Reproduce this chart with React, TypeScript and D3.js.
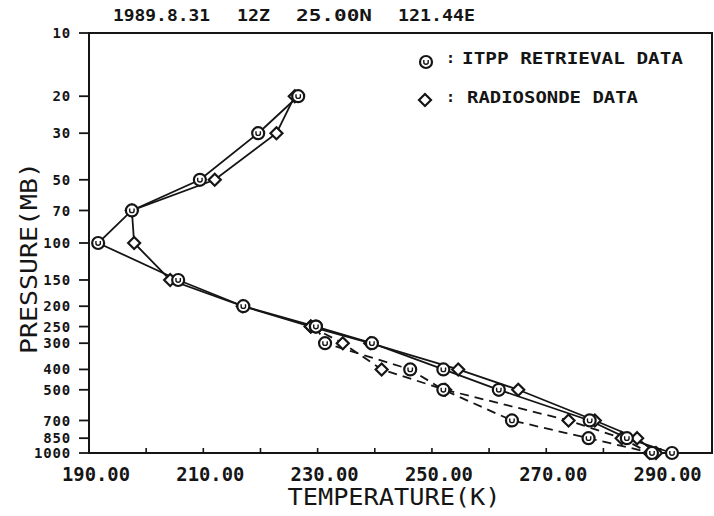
import * as d3 from "d3"

// pressure levels (mb) and temperatures (K)
const levels = [20, 30, 50, 70, 100, 150, 200, 250, 300, 400, 500, 700, 850, 1000]
const itppTemps = [226.6, 219.6, 209.4, 197.5, 191.6, 205.6, 217.0, 229.7, 239.5, 252.0, 261.7, 277.6, 284.1, 292.0]
const raobTemps = [226.0, 222.8, 212.0, 197.5, 197.9, 204.2, 216.9, 228.8, 239.2, 254.6, 265.1, 278.5, 285.9, 289.2]

// second (dashed) pair of profiles, lower troposphere only
const lowLevels = [250, 300, 400, 500, 700, 850, 1000]
const itppLowTemps = [229.7, 231.3, 246.2, 252.0, 264.0, 277.4, 288.5]
const raobLowTemps = [228.8, 234.4, 241.2, 252.3, 273.9, 283.2, 288.1]

const pressureTicks = [10, 20, 30, 50, 70, 100, 150, 200, 250, 300, 400, 500, 700, 850, 1000]
const tempLabels = [190, 210, 230, 250, 270, 290]
const tempTicks = [200, 210, 220, 230, 240, 250, 260, 270, 280, 290]
const titleParts = ["1989.8.31", "12Z", "25.00N", "121.44E"]

const W = 714
const H = 516
const INK = "#151515"
const FONT = "'DejaVu Sans Mono', monospace"

const x = d3.scaleLinear().domain([190, 299]).range([89, 712])
const y = d3.scaleLog().domain([10, 1000]).range([33, 453])

type Pt = { p: number; t: number }

const zipPts = (ps: number[], ts: number[]): Pt[] => ps.map((p, i) => ({ p, t: ts[i] }))

const line = d3
  .line<Pt>()
  .x((d) => x(d.t))
  .y((d) => y(d.p))

function CircleMark({ cx, cy }: { cx: number; cy: number }) {
  return (
    <g>
      <circle cx={cx} cy={cy} r={6} fill="#fff" stroke={INK} strokeWidth={2.2} />
      <path
        d={`M${cx - 2.2},${cy - 2} v2.2 q0,2 2.2,2 q2.2,0 2.2,-2 v-2.2`}
        fill="none"
        stroke={INK}
        strokeWidth={1.4}
      />
    </g>
  )
}

function DiamondMark({ cx, cy }: { cx: number; cy: number }) {
  return (
    <path
      d={`M${cx},${cy - 6} L${cx + 6},${cy} L${cx},${cy + 6} L${cx - 6},${cy} Z`}
      fill="#fff"
      stroke={INK}
      strokeWidth={2.2}
    />
  )
}

export default function App() {
  const itpp = zipPts(levels, itppTemps)
  const raob = zipPts(levels, raobTemps)
  const itppLow = zipPts(lowLevels, itppLowTemps)
  const raobLow = zipPts(lowLevels, raobLowTemps)

  const [x0, x1] = x.range()
  const [y0, y1] = y.range()

  const titleX = [113, 237, 296, 398]
  const titleW = [97, 33, 76, 77]

  return (
    <div style={{ position: "fixed", left: 0, top: 0, width: W, height: H, background: "#fff" }}>
      <svg width={W} height={H} viewBox={`0 0 ${W} ${H}`}>
        <rect width={W} height={H} fill="#fff" />

        {/* title */}
        {titleParts.map((s, i) => (
          <text
            key={s}
            x={titleX[i]}
            y={21}
            fontFamily={FONT}
            fontWeight="bold"
            fontSize={15}
            fill={INK}
            textLength={titleW[i]}
            lengthAdjust="spacingAndGlyphs"
          >
            {s}
          </text>
        ))}

        {/* frame */}
        <rect x={x0} y={y0} width={x1 - x0} height={y1 - y0} fill="none" stroke={INK} strokeWidth={2} />

        {/* y axis ticks + labels */}
        {pressureTicks.map((p) => (
          <g key={p}>
            <line x1={x0 - 10} x2={x0} y1={y(p)} y2={y(p)} stroke={INK} strokeWidth={1.8} />
            <text
              x={71}
              y={y(p)}
              dy="0.36em"
              textAnchor="end"
              fontFamily={FONT}
              fontWeight="bold"
              fontSize={14}
              fill={INK}
              letterSpacing={0.8}
            >
              {p}
            </text>
          </g>
        ))}

        {/* x axis ticks + labels */}
        {tempTicks.map((t) => (
          <line key={t} x1={x(t)} x2={x(t)} y1={y1} y2={y1 - 5} stroke={INK} strokeWidth={1.6} />
        ))}
        {tempLabels.map((t) => (
          <text
            key={t}
            x={x(t) + 7}
            y={481}
            textAnchor="middle"
            fontFamily={FONT}
            fontWeight="bold"
            fontSize={19}
            fill={INK}
            textLength={68}
            lengthAdjust="spacingAndGlyphs"
          >
            {t.toFixed(2)}
          </text>
        ))}

        {/* axis titles */}
        <text
          x={394}
          y={505}
          textAnchor="middle"
          fontFamily={FONT}
          fontSize={23}
          fill={INK}
          textLength={213}
          lengthAdjust="spacingAndGlyphs"
        >
          TEMPERATURE(K)
        </text>
        <text
          transform="translate(37,258) rotate(-90)"
          textAnchor="middle"
          fontFamily={FONT}
          fontSize={23}
          fill={INK}
          textLength={192}
          lengthAdjust="spacingAndGlyphs"
        >
          PRESSURE(MB)
        </text>

        {/* profiles */}
        <path d={line(itpp) ?? ""} fill="none" stroke={INK} strokeWidth={1.8} />
        <path d={line(raob) ?? ""} fill="none" stroke={INK} strokeWidth={1.8} />
        <path d={line(itppLow) ?? ""} fill="none" stroke={INK} strokeWidth={1.8} strokeDasharray="9 6" />
        <path d={line(raobLow) ?? ""} fill="none" stroke={INK} strokeWidth={1.8} strokeDasharray="9 6" />

        {raob.map((d) => (
          <DiamondMark key={"rs" + d.p} cx={x(d.t)} cy={y(d.p)} />
        ))}
        {raobLow.map((d) => (
          <DiamondMark key={"rd" + d.p} cx={x(d.t)} cy={y(d.p)} />
        ))}
        {itpp.map((d) => (
          <CircleMark key={"is" + d.p} cx={x(d.t)} cy={y(d.p)} />
        ))}
        {itppLow.map((d) => (
          <CircleMark key={"id" + d.p} cx={x(d.t)} cy={y(d.p)} />
        ))}

        {/* legend */}
        <CircleMark cx={426} cy={62} />
        <text x={446} y={63} fontFamily={FONT} fontWeight="bold" fontSize={15} fill={INK}>
          :
        </text>
        <text
          x={462}
          y={64}
          fontFamily={FONT}
          fontWeight="bold"
          fontSize={15}
          fill={INK}
          textLength={221}
          lengthAdjust="spacingAndGlyphs"
        >
          ITPP RETRIEVAL DATA
        </text>
        <DiamondMark cx={425} cy={100} />
        <text x={446} y={102} fontFamily={FONT} fontWeight="bold" fontSize={15} fill={INK}>
          :
        </text>
        <text
          x={467}
          y={103}
          fontFamily={FONT}
          fontWeight="bold"
          fontSize={15}
          fill={INK}
          textLength={171}
          lengthAdjust="spacingAndGlyphs"
        >
          RADIOSONDE DATA
        </text>
      </svg>
    </div>
  )
}
